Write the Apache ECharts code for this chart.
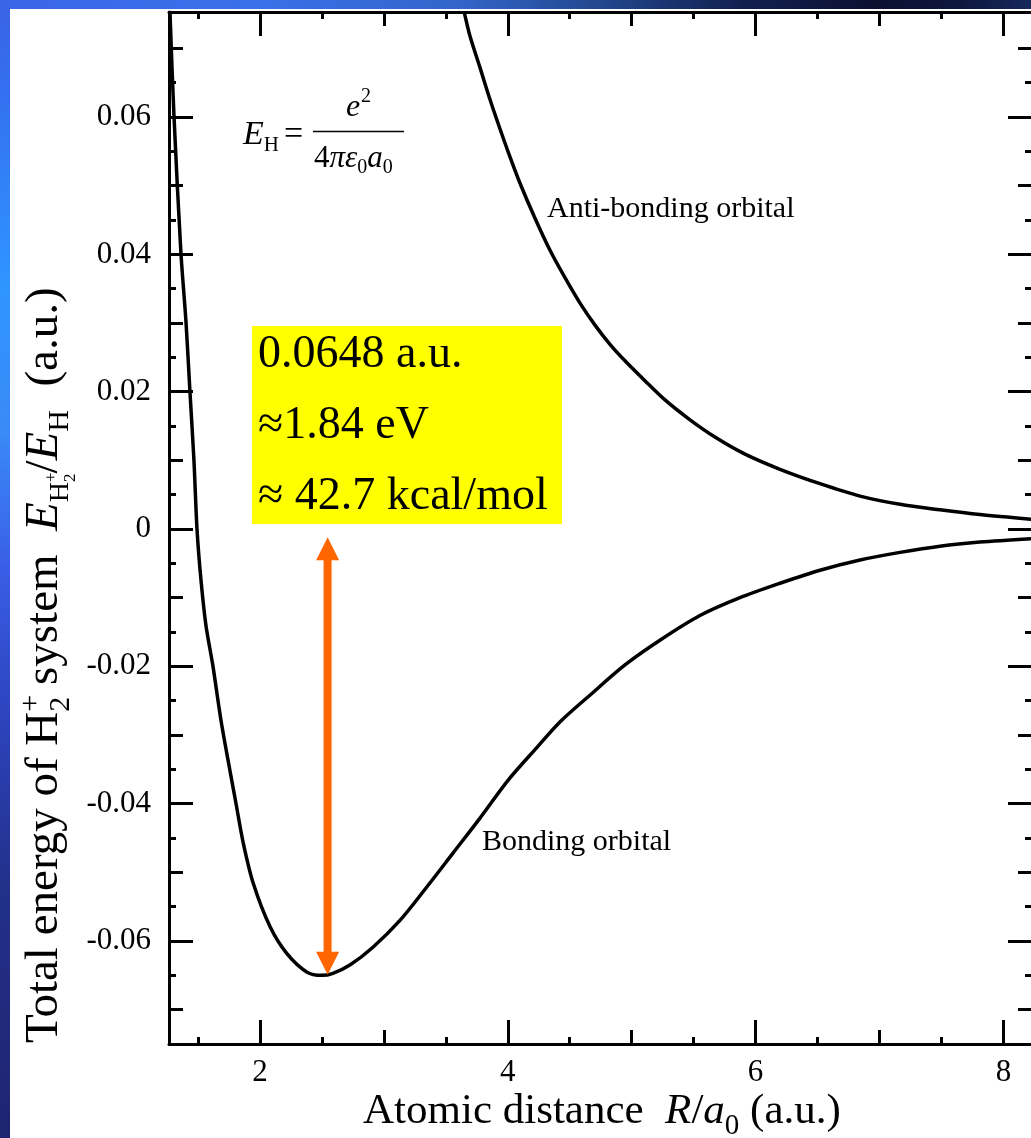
<!DOCTYPE html>
<html><head><meta charset="utf-8">
<script src="https://cdn.jsdelivr.net/npm/echarts@6/dist/echarts.min.js"></script>
<style>
html,body{margin:0;padding:0;background:#fff;}
#bgL{position:absolute;left:0;top:0;width:10px;height:1138px;background:linear-gradient(to bottom,#3a62e4 0%,#3470f0 8%,#2e95ff 25%,#3a8af8 38%,#3a5ee6 50%,#2d45c0 62%,#22308a 78%,#1f2470 100%);}
#bgT{position:absolute;left:0;top:0;width:1031px;height:9px;background:linear-gradient(to right,#3a66e6 0%,#3a70ea 25%,#3264c8 45%,#22488e 58%,#122050 72%,#0b1030 85%,#0e173e 93%,#16285c 100%);}
#chart{position:absolute;left:0;top:0;width:1031px;height:1138px;}
</style></head><body>
<div id="bgL"></div><div id="bgT"></div><div id="chart"></div>
<script>
// ---------- data ----------
const bondingR = [1.274,1.306,1.362,1.403,1.435,1.467,1.492,1.524,1.564,1.621,1.685,1.750,1.806,1.865,1.946,2.081,2.216,2.377,2.500,2.589,2.726,2.912,3.130,3.348,3.558,3.776,4.002,4.236,4.421,4.663,4.946,5.228,5.551,5.874,6.197,6.520,6.843,7.166,7.488,7.811,8.231];
const bondingE = [0.0752,0.0602,0.0403,0.0302,0.0200,0.0101,0.0000,-0.0074,-0.0140,-0.0200,-0.0278,-0.0344,-0.0399,-0.0457,-0.0516,-0.0579,-0.0618,-0.0645,-0.0650,-0.0647,-0.0635,-0.0609,-0.0570,-0.0521,-0.0472,-0.0421,-0.0366,-0.0318,-0.0281,-0.0242,-0.0198,-0.0162,-0.0126,-0.0100,-0.0079,-0.0060,-0.0045,-0.0034,-0.0025,-0.0019,-0.0014];
const antiR = [3.651,3.695,3.776,3.856,3.937,4.018,4.098,4.219,4.341,4.462,4.583,4.704,4.825,4.946,5.107,5.269,5.471,5.672,5.915,6.197,6.520,6.843,7.166,7.488,7.811,8.231];
const antiE = [0.0751,0.0718,0.0672,0.0626,0.0583,0.0542,0.0504,0.0453,0.0406,0.0366,0.0329,0.0297,0.0269,0.0245,0.0216,0.0188,0.0159,0.0134,0.0109,0.0087,0.0066,0.0048,0.0036,0.0028,0.0021,0.0014];
const arrowSpan = [2.546, -0.0012, -0.0649];   // R, top energy, bottom energy
const xMajorTicks = [2,4,6,8];
const xMajorLabels = ['2','4','6','8'];
const xMidTicks = [3,5,7];
const xMinorTicks = [1.5,2.5,3.5,4.5,5.5,6.5,7.5];
const yMajorTicks = [-0.06,-0.04,-0.02,0,0.02,0.04,0.06];
const yMajorLabels = ['-0.06','-0.04','-0.02','0','0.02','0.04','0.06'];
const yMidTicks = [-0.07,-0.05,-0.03,-0.01,0.01,0.03,0.05,0.07];
const yMinorTicks = [-0.065,-0.055,-0.045,-0.035,-0.025,-0.015,-0.005,0.005,0.015,0.025,0.035,0.045,0.055,0.065];
const xRange = [1.266, 8.231];
const yRange = [-0.075, 0.0753];
const boxLines = ['0.0648 a.u.', '\u22481.84 eV', '\u2248 42.7 kcal/mol'];

// ---------- helpers ----------
const FONT = '"Liberation Serif","Times New Roman",serif';
const cv = document.createElement('canvas').getContext('2d');
function fstr(s, it){ return (it ? 'italic ' : '') + s + 'px ' + FONT; }
function tw(t, s, it){ cv.font = fstr(s, it); return cv.measureText(t).width; }
function txt(t, x, yBase, s, it, align){
  return {type:'text', x:x, y:yBase - 0.3375*s, z:10,
    style:{text:t, font:fstr(s, it), fill:'#000', align:align||'left', verticalAlign:'middle', textAlign:align||'left', textVerticalAlign:'middle'}};
}
// lay out a run of tokens along a baseline; tokens: {t,s,i,dy,noAdv,gap}
function run(tokens, x0, y0){
  let x = x0; const els = [];
  tokens.forEach(k => {
    els.push(txt(k.t, x + (k.dx||0), y0 + (k.dy||0), k.s, k.i));
    if (!k.noAdv) x += tw(k.t, k.s, k.i) + (k.gap||0);
  });
  return {els, w: x - x0};
}

const chart = echarts.init(document.getElementById('chart'), null, {renderer:'canvas'});

function mkX(pos, ticks, len){
  return {type:'value', gridIndex:0, position:pos, min:xRange[0], max:xRange[1],
    axisLine:{show: len===24, onZero:false, lineStyle:{color:'#000', width:3}},
    axisTick:{show:true, inside:true, length:len, customValues:ticks, lineStyle:{color:'#000', width:3}},
    axisLabel:{show: pos==='bottom' && len===24, customValues: xMajorTicks, margin:13,
      formatter: v => xMajorLabels[xMajorTicks.indexOf(v)] ?? '', color:'#000', fontSize:31, fontFamily:FONT},
    splitLine:{show:false}, minorTick:{show:false}};
}
function mkY(pos, ticks, len){
  return {type:'value', gridIndex:0, position:pos, min:yRange[0], max:yRange[1],
    axisLine:{show: len===24, onZero:false, lineStyle:{color:'#000', width:3}},
    axisTick:{show:true, inside:true, length:len, customValues:ticks, lineStyle:{color:'#000', width:3}},
    axisLabel:{show: pos==='left' && len===24, customValues: yMajorTicks, margin:18,
      formatter: v => { const i = yMajorTicks.findIndex(t => Math.abs(t - v) < 1e-9); return i >= 0 ? yMajorLabels[i] : ''; },
      color:'#000', fontSize:31, fontFamily:FONT},
    splitLine:{show:false}};
}

// ---------- annotations ----------
const g = [];
// yellow box
g.push({type:'rect', shape:{x:252, y:326, width:310, height:198}, style:{fill:'#FFFF00'}, z:5});
[370, 441.5, 512.5].forEach((b, i) => g.push(txt(boxLines[i], 258, b, 46, false)));
// curve labels
g.push(txt('Anti-bonding orbital', 547, 219, 30, false));
g.push(txt('Bonding orbital', 482, 852, 30, false));
// formula E_H = e^2 / (4 pi eps0 a0)
(function(){
  const a = run([{t:'E', s:34, i:true}, {t:'H', s:21, dy:6, gap:5}, {t:'=', s:34}], 243, 147);
  g.push(...a.els);
  const num = [{t:'e', s:32, i:true, gap:1}, {t:'2', s:20, dy:-15}];
  let nw = 0; num.forEach(k => nw += tw(k.t, k.s, k.i));
  g.push(...run(num, 358 - nw/2, 118).els);
  g.push({type:'line', shape:{x1:313, y1:131.5, x2:404, y2:131.5}, style:{stroke:'#000', lineWidth:1.5}, z:10});
  const den = [{t:'4', s:31}, {t:'\u03C0', s:31, i:true}, {t:'\u03B5', s:31, i:true}, {t:'0', s:20, dy:5}, {t:'a', s:31, i:true}, {t:'0', s:20, dy:5}];
  g.push(...run(den, 314, 169).els);
})();
// x axis title
(function(){
  const r = run([{t:'Atomic distance  ', s:43}, {t:'R', s:43, i:true}, {t:'/', s:43}, {t:'a', s:43, i:true}, {t:'0', s:29, dy:10}, {t:' (a.u.)', s:43}], 363, 1126);
  g.push(...r.els);
})();
// y axis title (rotated)
(function(){
  const toks = [
    {t:'Total energy of H', s:47},
    {t:'+', s:30, dy:-20, noAdv:true}, {t:'2', s:30, dy:10},
    {t:' system  ', s:47},
    {t:'E', s:47, i:true},
    {t:'H', s:28, dy:9},
    {t:'+', s:17, dy:-4, noAdv:true}, {t:'2', s:17, dy:15},
    {t:'/', s:47},
    {t:'E', s:47, i:true},
    {t:'H', s:30, dy:9},
    {t:'  (a.u.)', s:47}
  ];
  const r = run(toks, 0, 0);
  g.push({type:'group', x:61, y:1043, rotation:Math.PI/2, children:r.els, z:10});
})();

const option = {
  animation:false,
  backgroundColor:'transparent',
  grid:{left:169, top:12, width:863, height:1032, containLabel:false, outerBoundsMode:'none'},
  xAxis:[mkX('bottom', xMajorTicks, 24), mkX('bottom', xMidTicks, 14), mkX('bottom', xMinorTicks, 7),
         mkX('top', xMajorTicks, 24), mkX('top', xMidTicks, 14), mkX('top', xMinorTicks, 7)],
  yAxis:[mkY('left', yMajorTicks, 24), mkY('left', yMidTicks, 14), mkY('left', yMinorTicks, 7),
         mkY('right', yMajorTicks, 24), mkY('right', yMidTicks, 14), mkY('right', yMinorTicks, 7)],
  series:[
    {name:'Bonding orbital', type:'line', xAxisIndex:0, yAxisIndex:0, data:bondingR.map((r,i)=>[r,bondingE[i]]),
     showSymbol:false, smooth:0.3, clip:true, lineStyle:{color:'#000', width:3.5}, z:3},
    {name:'Anti-bonding orbital', type:'line', xAxisIndex:0, yAxisIndex:0, data:antiR.map((r,i)=>[r,antiE[i]]),
     showSymbol:false, smooth:0.3, clip:true, lineStyle:{color:'#000', width:3.5}, z:3},
    {type:'custom', xAxisIndex:0, yAxisIndex:0, data:[arrowSpan], z:8, clip:false,
     renderItem:function(params, api){
       const top = api.coord([api.value(0), api.value(1)]);
       const bot = api.coord([api.value(0), api.value(2)]);
       const x = top[0], hw = 11.5, hl = 23, sw = 4;
       const c = '#FF6600';
       return {type:'group', children:[
         {type:'rect', shape:{x:x-sw, y:top[1]+hl-1, width:2*sw, height:bot[1]-top[1]-2*hl+2}, style:{fill:c}},
         {type:'polygon', shape:{points:[[x,top[1]],[x-hw,top[1]+hl],[x+hw,top[1]+hl]]}, style:{fill:c}},
         {type:'polygon', shape:{points:[[x,bot[1]],[x-hw,bot[1]-hl],[x+hw,bot[1]-hl]]}, style:{fill:c}}
       ]};
     }}
  ],
  graphic:{elements:g}
};
chart.setOption(option);
</script>
</body></html>
